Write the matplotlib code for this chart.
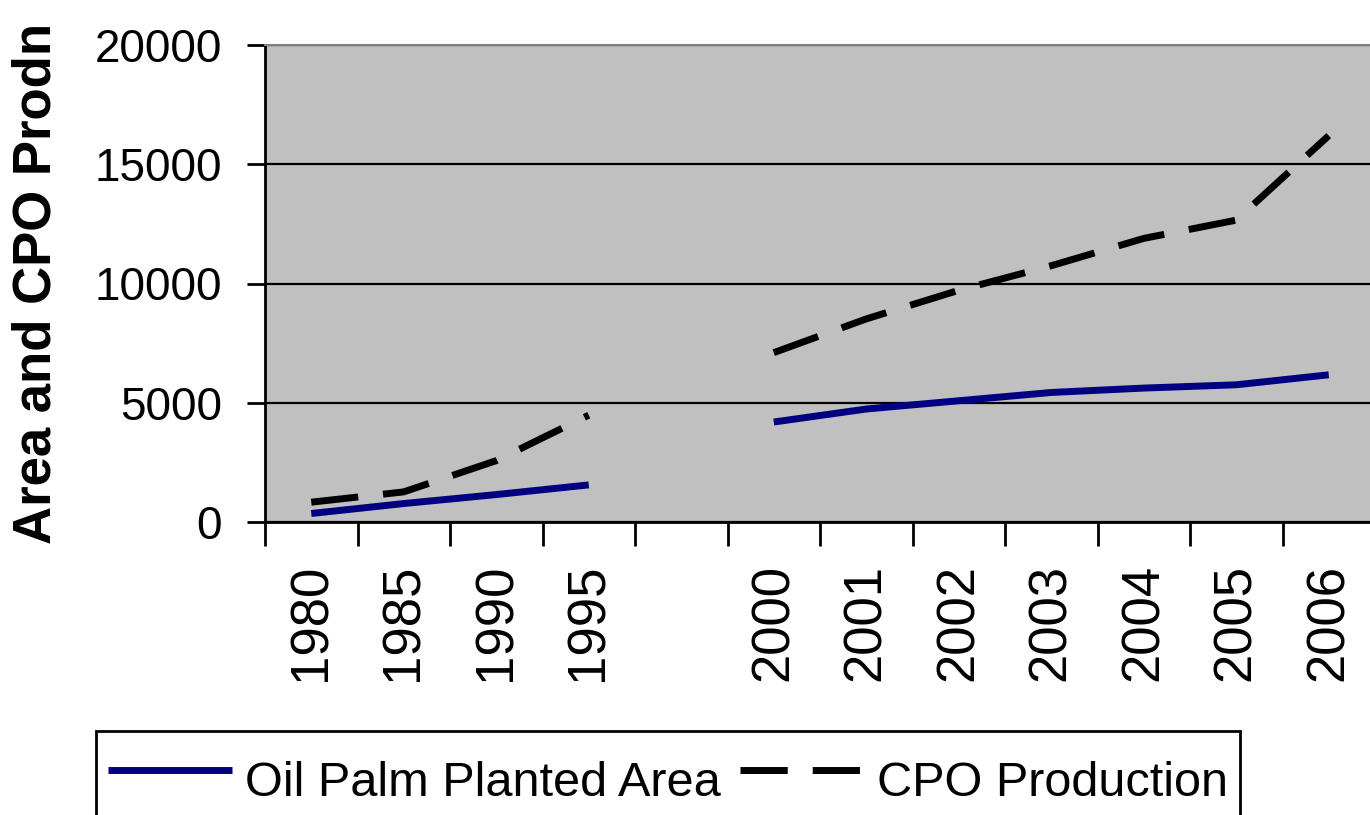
import matplotlib
matplotlib.use('Agg')
import matplotlib.pyplot as plt
import numpy as np
from matplotlib import font_manager

# ---- data ----
years = ["1980", "1985", "1990", "1995", "", "2000", "2001", "2002",
         "2003", "2004", "2005", "2006"]
area = [356, 774, 1150, 1556, np.nan, 4192, 4737, 5084, 5431, 5615, 5753, 6172]
cpo = [830, 1263, 2573, 4480, np.nan, 7100, 8515, 9715, 10745, 11891, 12657, 16200]
yticks = [0, 5000, 10000, 15000, 20000]
series_labels = ["Oil Palm Planted Area", "CPO Production"]
ylabel = "Area and CPO Prodn"

plt.rcParams['font.family'] = ['Liberation Sans', 'DejaVu Sans']

W, H = 1370, 815
fig = plt.figure(figsize=(W / 100, H / 100), dpi=100)
ax = fig.add_axes([265 / W, 1 - 522 / H, 1110 / W, 477 / H])
ax.set_facecolor('#C0C0C0')

x = np.arange(len(years))
l1, = ax.plot(x, area, color='#000080', lw=5, solid_capstyle='butt', zorder=3)
l2, = ax.plot(x, cpo, color='black', lw=5, dashes=(6.8, 3.6),
              dash_capstyle='butt', zorder=3)

ax.set_xlim(-0.5, len(years) - 0.5)
ax.set_ylim(0, 20000)
ax.set_yticks(yticks)
ax.set_yticklabels([str(v) for v in yticks])

ax.set_xticks(np.arange(len(years) + 1) - 0.5)
ax.set_xticklabels([])
ax.set_xticks(x, minor=True)
ax.set_xticklabels(years, minor=True, rotation=90, fontsize=38)
ax.tick_params(axis='x', which='minor', length=0, pad=30)
ax.tick_params(axis='x', which='major', length=17, width=2, direction='out')
ax.tick_params(axis='y', length=13, width=2, labelsize=33, pad=18, direction='out')

ax.set_axisbelow(True)
ax.yaxis.grid(True, color='black', lw=1.6)

for s in ['left', 'bottom']:
    ax.spines[s].set_color('black')
    ax.spines[s].set_linewidth(2)
ax.spines['top'].set_color('#808080')
ax.spines['top'].set_linewidth(1.5)
ax.spines['right'].set_visible(False)

ax.set_ylabel(ylabel, fontsize=38, fontweight='bold', labelpad=24)

# ---- legend ----
names = {f.name for f in font_manager.fontManager.ttflist}
if 'Liberation Sans Narrow' in names:
    lfam, lsize = 'Liberation Sans Narrow', 43
else:
    lfam, lsize = 'Liberation Sans', 35
fs_px = lsize * 100 / 72
leg = fig.legend([l1, l2], series_labels, loc='upper left',
                 bbox_to_anchor=(96 / W, 1 - 731 / H), bbox_transform=fig.transFigure,
                 ncol=2, prop={'family': lfam, 'size': lsize}, frameon=True,
                 fancybox=False, edgecolor='black', facecolor='white', framealpha=1,
                 borderpad=0.25, handlelength=124 / fs_px, handleheight=2.0,
                 handletextpad=13 / fs_px, columnspacing=19 / fs_px, borderaxespad=0)
leg.get_frame().set_linewidth(2)

fig.savefig('out.png', dpi=100)
